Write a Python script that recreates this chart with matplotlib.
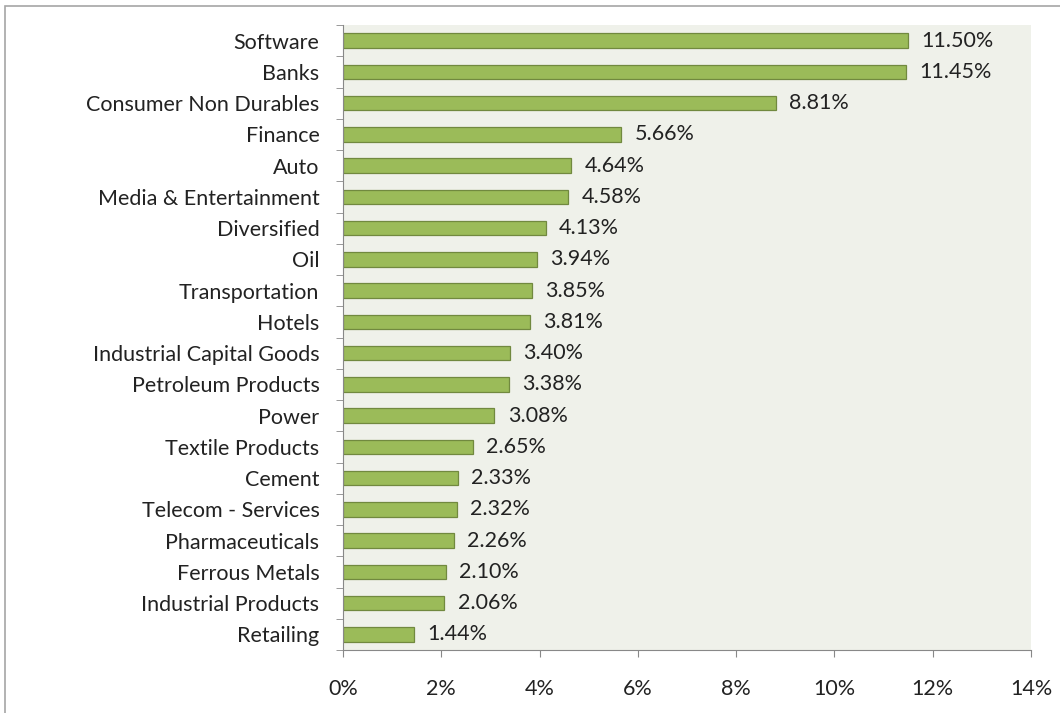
import matplotlib.pyplot as plt
from matplotlib.ticker import FuncFormatter, FixedLocator
import matplotlib.patches as mpatches

# sector weights, top to bottom
sectors = [
    "Software", "Banks", "Consumer Non Durables", "Finance", "Auto",
    "Media & Entertainment", "Diversified", "Oil", "Transportation", "Hotels",
    "Industrial Capital Goods", "Petroleum Products", "Power", "Textile Products",
    "Cement", "Telecom - Services", "Pharmaceuticals", "Ferrous Metals",
    "Industrial Products", "Retailing",
]
weights = [11.50, 11.45, 8.81, 5.66, 4.64, 4.58, 4.13, 3.94, 3.85, 3.81,
           3.40, 3.38, 3.08, 2.65, 2.33, 2.32, 2.26, 2.10, 2.06, 1.44]
x_ticks = [0, 2, 4, 6, 8, 10, 12, 14]

plt.rcParams['font.family'] = ['Lato', 'DejaVu Sans']
FS = 15.5

fig = plt.figure(figsize=(10.6, 7.13), dpi=100)
ax = fig.add_axes([343 / 1060, 1 - 650 / 713, (1031 - 343) / 1060, (650 - 25) / 713])
ax.set_facecolor("#eff1ea")

# outer frame
fig.patches.append(mpatches.Rectangle((5 / 1060, -0.1), 1.2, 1 - 6 / 713 + 0.1,
                                      transform=fig.transFigure, fill=False,
                                      edgecolor="#a6a6a6", linewidth=1.2))

y = list(range(len(sectors)))
ax.barh(y, weights, height=0.46, color="#9bbb59", edgecolor="#71893f", linewidth=0.9)
for yi, w in zip(y, weights):
    ax.text(w + 0.27, yi, f"{w:.2f}%", va="center", ha="left", fontsize=FS, color="#222222")

ax.set_ylim(len(sectors) - 0.5, -0.5)
ax.set_xlim(0, 14)
ax.set_yticks(y)
ax.set_yticklabels(sectors, fontsize=FS, color="#222222")
ax.yaxis.set_minor_locator(FixedLocator([i - 0.5 for i in range(len(sectors) + 1)]))
ax.tick_params(axis="y", which="major", length=0, pad=17)
ax.tick_params(axis="y", which="minor", length=5, color="#888888")
ax.set_xticks(x_ticks)
ax.xaxis.set_major_formatter(FuncFormatter(lambda v, p: f"{v:.0f}%"))
ax.tick_params(axis="x", length=5, color="#888888", labelsize=FS, labelcolor="#222222", pad=16)

for s in ["top", "right"]:
    ax.spines[s].set_visible(False)
for s in ["left", "bottom"]:
    ax.spines[s].set_color("#888888")

fig.savefig("out.png", dpi=100)
